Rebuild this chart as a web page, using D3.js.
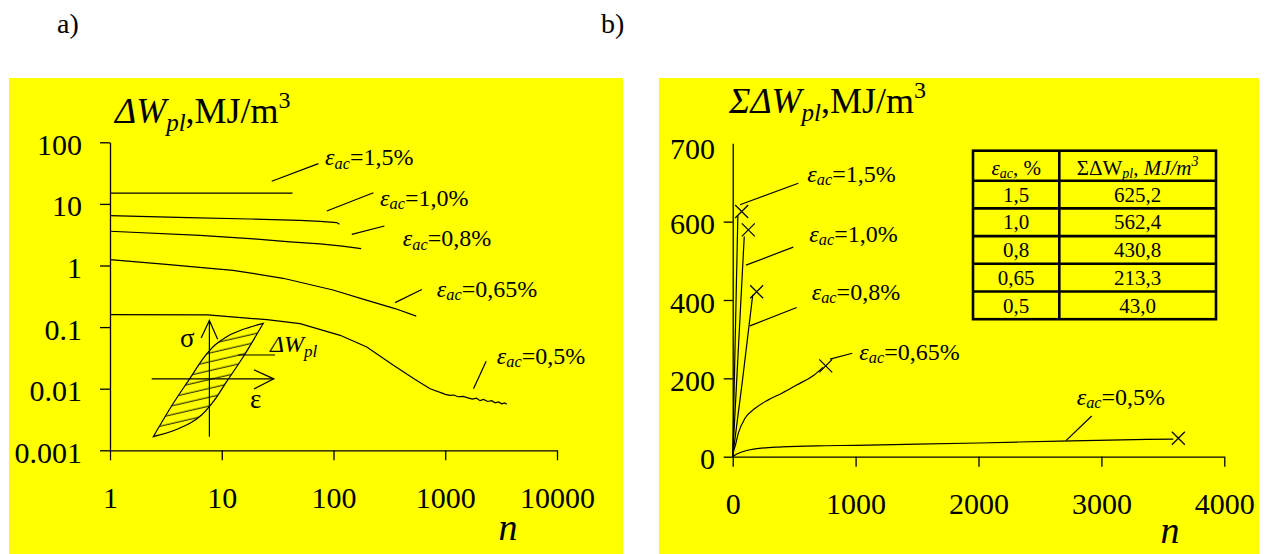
<!DOCTYPE html>
<html><head><meta charset="utf-8">
<script src="https://cdn.jsdelivr.net/npm/d3@7"></script>
<style>
body{margin:0;background:#fff;}
svg text{font-family:"Liberation Serif","Times New Roman",serif;fill:#000;}
</style></head><body>
<svg id="c" width="1269" height="554"></svg>
<script>
// ---------- DATA ----------
const panelLetters = ["a)", "b)"];
const seriesLabels = ["1,5", "1,0", "0,8", "0,65", "0,5"];

// panel a) : plastic strain energy per cycle vs n (log-log)
const xTicksA = [1, 10, 100, 1000, 10000];
const xTickLabelsA = ["1", "10", "100", "1000", "10000"];
const yTicksA = [0.001, 0.01, 0.1, 1, 10, 100];
const yTickLabelsA = ["0.001", "0.01", "0.1", "1", "10", "100"];

const nA15 = [1, 2, 5, 10, 20, 43];
const wA15 = [15, 15, 15, 15, 15, 15];
const nA10 = [1, 5, 18, 50, 76, 107, 113];
const wA10 = [6.45, 6.0, 5.69, 5.42, 5.22, 4.97, 4.67];
const nA08 = [1, 6.4, 17.9, 40.9, 75.8, 120, 177];
const wA08 = [3.6, 3.09, 2.73, 2.41, 2.25, 2.07, 1.88];
const nA065 = [1, 3, 12.6, 35.4, 99, 190, 355, 550];
const wA065 = [1.25, 1.05, 0.836, 0.62, 0.40, 0.28, 0.20, 0.151];
const nA05 = [1, 7.5, 25.4, 50.2, 114.6, 198.6, 343.6, 538, 732, 964, 1000, 1100, 1200, 1300, 1450, 1600, 1750, 1900, 2050, 2200, 2400, 2600, 2800, 3000, 3200, 3400, 3557];
const wA05 = [0.16, 0.158, 0.132, 0.114, 0.0736, 0.0475, 0.024, 0.0141, 0.0100, 0.0083, 0.0081, 0.0078, 0.0079, 0.0074, 0.0075, 0.0071, 0.0068, 0.0070, 0.0064, 0.0067, 0.0062, 0.0064, 0.0059, 0.0061, 0.0057, 0.0059, 0.0056];

// leader lines [n1, w1, n2, w2] and label anchors [n, w] (data units)
const leadersA = [[28, 23.3, 73.3, 45.1], [87.1, 7.67, 227.6, 15.2], [145.8, 3.21, 285.6, 4.38], [355.9, 0.25, 617, 0.407], [1790, 0.0100, 2323, 0.0279]];
const labelPosA = [[84.1, 42.3], [261, 9.25], [417, 2.05], [841, 0.308], [2897, 0.0255]];

// hysteresis loop inset (normalised strain / stress)
const loopEps = [-1, -0.636, -0.333, -0.091, 0.122, 0.335, 0.636, 1];
const loopSig = [-1, -0.411, 0.03, 0.383, 0.617, 0.764, 0.894, 1];

// panel b) : cumulative plastic strain energy vs n (linear)
const xTicksB = [0, 1000, 2000, 3000, 4000];
const xTickLabelsB = ["0", "1000", "2000", "3000", "4000"];
const yTicksB = [0, 200, 400, 600, 800];
const yTickLabelsB = ["0", "200", "400", "600", "700"];

const nB15 = [0, 42];
const wB15 = [0, 615];
const nB10 = [0, 94];
const wB10 = [0, 562];
const nB08 = [0, 80, 163];
const wB08 = [0, 196, 413];
const nB065 = [0, 8, 20, 46, 100, 180, 290, 400, 520, 660, 735];
const wB065 = [0, 15, 27, 60, 98, 123, 145, 162, 183, 208, 228];
const nB05 = [0, 30, 73, 181, 400, 750, 1000, 1500, 2000, 2660, 3585];
const wB05 = [0, 6, 12, 20, 25, 28, 29, 32, 35, 40, 45];
const markerN = [73, 127, 195, 757, 3626];
const markerW = [626, 579, 421, 232, 47];

const leadersB = [[59, 643, 534, 698], [108, 489, 493, 535], [141, 334, 521, 381], [792, 249, 973, 264], [2712, 41, 2921, 104]];
const labelPosB = [[607, 702], [623, 549], [643, 400], [1030, 247], [2799, 132]];

// table
const tableStrain = ["1,5", "1,0", "0,8", "0,65", "0,5"];
const tableTotal = ["625,2", "562,4", "430,8", "213,3", "43,0"];

// ---------- DRAW ----------
const svg = d3.select("#c");
const FONT = "Liberation Serif, Times New Roman, serif";
const YEL = "#ffff00";

svg.append("rect").attr("x", 9).attr("y", 78).attr("width", 614).attr("height", 476).attr("fill", YEL);
svg.append("rect").attr("x", 659).attr("y", 78).attr("width", 600).attr("height", 476).attr("fill", YEL);

svg.append("text").attr("x", 57).attr("y", 33).attr("font-size", 28).text(panelLetters[0]);
svg.append("text").attr("x", 601).attr("y", 33).attr("font-size", 28).text(panelLetters[1]);

function styleAxis(g) {
  g.attr("font-family", FONT).attr("font-size", 30);
  g.selectAll("path,line").attr("stroke", "#000").attr("stroke-width", 1.3);
}

function epsLabel(g, x, y, val, size) {
  const t = g.append("text").attr("x", x).attr("y", y).attr("font-size", size);
  t.append("tspan").attr("font-style", "italic").text("ε");
  t.append("tspan").attr("font-style", "italic").attr("font-size", size * 0.68).attr("dy", size * 0.14).text("ac");
  t.append("tspan").attr("dy", -size * 0.14).text("=" + val + "%");
}

// ===== Panel a =====
const xA = d3.scaleLog().domain([1, 10000]).range([110, 557]);
const yA = d3.scaleLog().domain([0.001, 100]).range([450.3, 142.3]);
const gA = svg.append("g");

const axA_x = gA.append("g").attr("transform", "translate(0,450.3)")
  .call(d3.axisBottom(xA).tickValues(xTicksA).tickSize(10).tickSizeOuter(0)
    .tickFormat((d, i) => xTickLabelsA[i]));
styleAxis(axA_x);
axA_x.selectAll(".tick text").attr("y", 58).attr("dy", 0);

const axA_y = gA.append("g").attr("transform", "translate(110,0)")
  .call(d3.axisLeft(yA).tickValues(yTicksA).tickSize(10).tickSizeOuter(0)
    .tickFormat((d, i) => yTickLabelsA[i]));
styleAxis(axA_y);
axA_y.selectAll(".tick text").attr("x", -28).attr("dy", "0.4em");

const lineA = d3.line().x(d => xA(d[0])).y(d => yA(d[1]));
[[nA15, wA15], [nA10, wA10], [nA08, wA08], [nA065, wA065], [nA05, wA05]].forEach(([n, w]) => {
  gA.append("path").attr("d", lineA(d3.zip(n, w))).attr("fill", "none")
    .attr("stroke", "#000").attr("stroke-width", 1.2);
});
leadersA.forEach(l => {
  gA.append("line").attr("x1", xA(l[0])).attr("y1", yA(l[1])).attr("x2", xA(l[2])).attr("y2", yA(l[3]))
    .attr("stroke", "#000").attr("stroke-width", 1.2);
});
labelPosA.forEach((p, i) => epsLabel(gA, xA(p[0]), yA(p[1]), seriesLabels[i], 24));

// title a
{
  const t = gA.append("text").attr("x", 115).attr("y", 123).attr("font-size", 36);
  t.append("tspan").attr("font-style", "italic").text("ΔW");
  t.append("tspan").attr("font-style", "italic").attr("font-size", 25).attr("dy", 8).text("pl");
  t.append("tspan").attr("dy", -8).text(",MJ/m");
  t.append("tspan").attr("font-size", 24).attr("dy", -15).text("3");
}
gA.append("text").attr("x", 508).attr("y", 540).attr("text-anchor", "middle")
  .attr("font-size", 38).attr("font-style", "italic").text("n");

// hysteresis inset
const ix = d3.scaleLinear().domain([-1, 1]).range([153.3, 263.3]);
const iy = d3.scaleLinear().domain([-1, 1]).range([436.7, 323.3]);
const defs = svg.append("defs");
const pat = defs.append("pattern").attr("id", "hatch").attr("patternUnits", "userSpaceOnUse")
  .attr("width", 40).attr("height", 8.6).attr("patternTransform", "rotate(-13)");
pat.append("line").attr("x1", 0).attr("y1", 4).attr("x2", 40).attr("y2", 4)
  .attr("stroke", "#000").attr("stroke-width", 1);
const upBranch = d3.zip(loopEps, loopSig);
const downBranch = upBranch.map(d => [-d[0], -d[1]]).reverse().reverse();
const downPts = loopEps.map((e, i) => [-e, -loopSig[i]]); // from (1,1) to (-1,-1)
const lineI = d3.line().x(d => ix(d[0])).y(d => iy(d[1])).curve(d3.curveCatmullRom);
const loopD = lineI(upBranch) + "L" + lineI(downPts).slice(1) + "Z";
gA.append("path").attr("d", loopD).attr("fill", "url(#hatch)").attr("stroke", "#000").attr("stroke-width", 1.2);
// inset axes
gA.append("line").attr("x1", ix(0.02)).attr("y1", iy(-1)).attr("x2", ix(0.02)).attr("y2", iy(1.05))
  .attr("stroke", "#000").attr("stroke-width", 1.2);
gA.append("path").attr("d", `M${ix(-0.13)},${iy(0.74)}L${ix(0.02)},${iy(1.05)}L${ix(0.17)},${iy(0.72)}`)
  .attr("fill", "none").attr("stroke", "#000").attr("stroke-width", 1.2);
gA.append("line").attr("x1", ix(-1.03)).attr("y1", iy(0.02)).attr("x2", ix(1.19)).attr("y2", iy(0.02))
  .attr("stroke", "#000").attr("stroke-width", 1.2);
gA.append("path").attr("d", `M${ix(0.83)},${iy(0.18)}L${ix(1.19)},${iy(0.02)}L${ix(0.83)},${iy(-0.16)}`)
  .attr("fill", "none").attr("stroke", "#000").attr("stroke-width", 1.2);
gA.append("text").attr("x", 180).attr("y", 347).attr("font-size", 27).text("σ");
gA.append("text").attr("x", 250).attr("y", 408).attr("font-size", 27).text("ε");
gA.append("line").attr("x1", 238).attr("y1", 355).attr("x2", 275).attr("y2", 355)
  .attr("stroke", "#000").attr("stroke-width", 1.2);
{
  const t = gA.append("text").attr("x", 270).attr("y", 352).attr("font-size", 24);
  t.append("tspan").attr("font-style", "italic").text("ΔW");
  t.append("tspan").attr("font-style", "italic").attr("font-size", 17).attr("dy", 5).text("pl");
}

// ===== Panel b =====
const xB = d3.scaleLinear().domain([0, 4000]).range([732.7, 1224.3]);
const yB = d3.scaleLinear().domain([0, 800]).range([456.7, 143.3]);
const gB = svg.append("g");

const axB_x = gB.append("g").attr("transform", "translate(0,456.7)")
  .call(d3.axisBottom(xB).tickValues(xTicksB).tickSize(10).tickSizeOuter(0)
    .tickFormat((d, i) => xTickLabelsB[i]));
styleAxis(axB_x);
axB_x.selectAll(".tick text").attr("y", 57).attr("dy", 0);

const axB_y = gB.append("g").attr("transform", "translate(732.7,0)")
  .call(d3.axisLeft(yB).tickValues(yTicksB).tickSize(9).tickSizeOuter(0)
    .tickFormat((d, i) => yTickLabelsB[i]));
styleAxis(axB_y);
axB_y.selectAll(".tick text").attr("x", -17.7).attr("dy", "0.4em");
axB_y.selectAll(".tick").filter(d => d === yTicksB[yTicksB.length - 1]).select("line").remove();
axB_y.selectAll(".tick").filter(d => d === yTicksB[yTicksB.length - 1]).select("text").attr("dy", "0.52em");

const lineB = d3.line().x(d => xB(d[0])).y(d => yB(d[1]));
const lineBc = d3.line().x(d => xB(d[0])).y(d => yB(d[1])).curve(d3.curveMonotoneX);
[[nB15, wB15], [nB10, wB10], [nB08, wB08]].forEach(([n, w]) => {
  gB.append("path").attr("d", lineB(d3.zip(n, w))).attr("fill", "none").attr("stroke", "#000").attr("stroke-width", 1.2);
});
[[nB065, wB065], [nB05, wB05]].forEach(([n, w]) => {
  gB.append("path").attr("d", lineBc(d3.zip(n, w))).attr("fill", "none").attr("stroke", "#000").attr("stroke-width", 1.2);
});
d3.zip(markerN, markerW).forEach(([n, w]) => {
  const cx = xB(n), cy = yB(w), s = 6.5;
  gB.append("path").attr("d", `M${cx - s},${cy - s}L${cx + s},${cy + s}M${cx - s},${cy + s}L${cx + s},${cy - s}`)
    .attr("stroke", "#000").attr("stroke-width", 1.2);
});
leadersB.forEach(l => {
  gB.append("line").attr("x1", xB(l[0])).attr("y1", yB(l[1])).attr("x2", xB(l[2])).attr("y2", yB(l[3]))
    .attr("stroke", "#000").attr("stroke-width", 1.2);
});
labelPosB.forEach((p, i) => epsLabel(gB, xB(p[0]), yB(p[1]), seriesLabels[i], 24));

{
  const t = gB.append("text").attr("x", 729).attr("y", 113.3).attr("font-size", 36);
  t.append("tspan").attr("font-style", "italic").text("ΣΔW");
  t.append("tspan").attr("font-style", "italic").attr("font-size", 25).attr("dy", 8).text("pl");
  t.append("tspan").attr("dy", -8).text(",MJ/m");
  t.append("tspan").attr("font-size", 24).attr("dy", -15).text("3");
}
gB.append("text").attr("x", 1170).attr("y", 543).attr("text-anchor", "middle")
  .attr("font-size", 38).attr("font-style", "italic").text("n");

// table
const tX0 = 973, tX1 = 1059.3, tX2 = 1216, tY0 = 150.7, headH = 30, rowH = 27.7;
const nRows = tableStrain.length;
const tY1 = tY0 + headH + nRows * rowH;
const tg = gB.append("g");
tg.append("rect").attr("x", tX0).attr("y", tY0).attr("width", tX2 - tX0).attr("height", tY1 - tY0)
  .attr("fill", "none").attr("stroke", "#000").attr("stroke-width", 2.6);
tg.append("line").attr("x1", tX1).attr("x2", tX1).attr("y1", tY0).attr("y2", tY1).attr("stroke", "#000").attr("stroke-width", 2.6);
d3.range(nRows).forEach(i => {
  const y = tY0 + headH + i * rowH;
  tg.append("line").attr("x1", tX0).attr("x2", tX2).attr("y1", y).attr("y2", y).attr("stroke", "#000").attr("stroke-width", 2.6);
  tg.append("text").attr("x", (tX0 + tX1) / 2).attr("y", y + 21).attr("text-anchor", "middle").attr("font-size", 21).text(tableStrain[i]);
  tg.append("text").attr("x", (tX1 + tX2) / 2).attr("y", y + 21).attr("text-anchor", "middle").attr("font-size", 21).text(tableTotal[i]);
});
{
  const t = tg.append("text").attr("x", (tX0 + tX1) / 2).attr("y", tY0 + 24).attr("text-anchor", "middle").attr("font-size", 21);
  t.append("tspan").attr("font-style", "italic").text("ε");
  t.append("tspan").attr("font-style", "italic").attr("font-size", 14).attr("dy", 3).text("ac");
  t.append("tspan").attr("dy", -3).text(", %");
  const h = tg.append("text").attr("x", (tX1 + tX2) / 2).attr("y", tY0 + 24).attr("text-anchor", "middle").attr("font-size", 21);
  h.append("tspan").text("ΣΔW");
  h.append("tspan").attr("font-style", "italic").attr("font-size", 14).attr("dy", 3).text("pl");
  h.append("tspan").attr("dy", -3).text(", ");
  h.append("tspan").attr("font-style", "italic").text("MJ/m");
  h.append("tspan").attr("font-style", "italic").attr("font-size", 14).attr("dy", -9).text("3");
}
</script>
</body></html>
